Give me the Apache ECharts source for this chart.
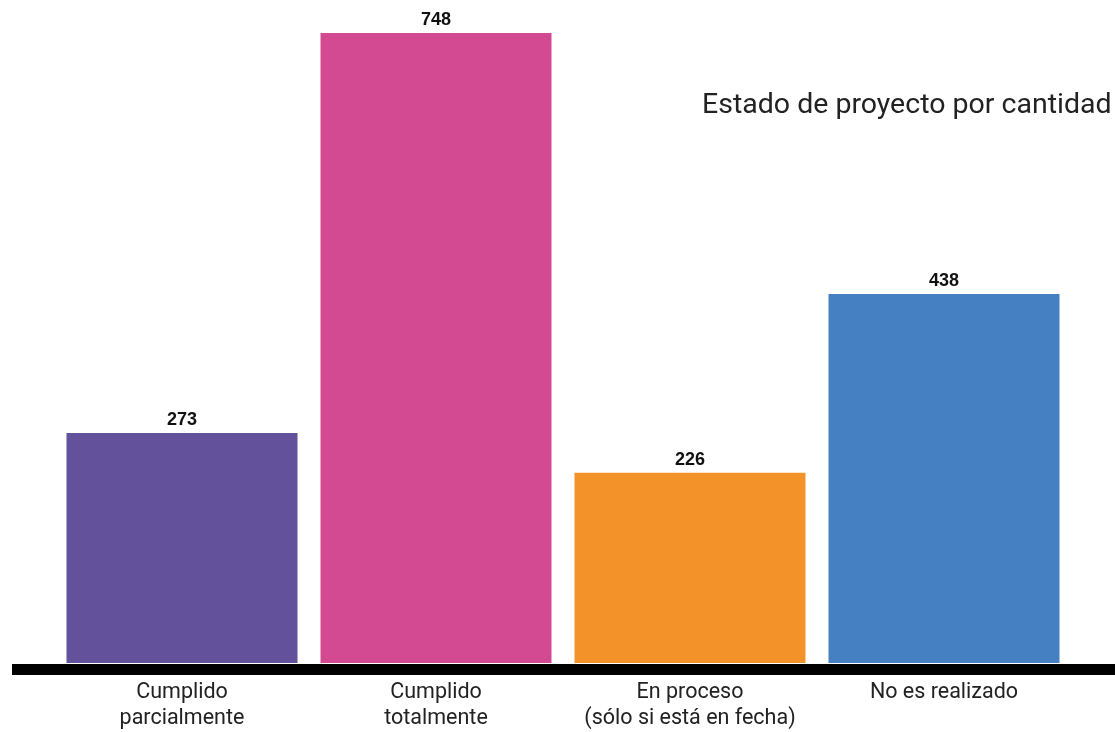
<!DOCTYPE html>
<html><head><meta charset="utf-8">
<script src="https://cdn.jsdelivr.net/npm/echarts@6/dist/echarts.min.js"></script>
<style>html,body{margin:0;padding:0;background:#fff}#c{width:1115px;height:732px}</style>
</head><body><div id="c"></div>
<script>
const categories = ['Cumplido\nparcialmente', 'Cumplido\ntotalmente', 'En proceso\n(sólo si está en fecha)', 'No es realizado'];
const values = [273, 748, 226, 438];
const colors = ['#63519B', '#D44A92', '#F39229', '#4580C2'];
const titleText = 'Estado de proyecto por cantidad';

const chart = echarts.init(document.getElementById('c'));
chart.setOption({
  animation: false,
  title: {
    text: titleText, left: 697, top: 86,
    textStyle: { fontFamily: 'Roboto', fontWeight: 'normal', fontSize: 28.5, color: '#222' }
  },
  grid: { left: 55, right: 44, top: 33, bottom: 68, containLabel: false },
  xAxis: {
    type: 'category', data: categories,
    axisLine: { show: false }, axisTick: { show: false },
    axisLabel: { interval: 0, fontFamily: 'Roboto', fontSize: 21.5, color: '#222', lineHeight: 26, margin: 17 }
  },
  yAxis: { type: 'value', min: 0, max: 748, show: false, splitLine: { show: false } },
  graphic: [{
    type: 'rect', left: 12, top: 664, shape: { width: 1103, height: 11 },
    style: { fill: '#000' }, z: 10
  }],
  series: [{
    type: 'bar', barWidth: 231,
    data: values.map((v, i) => ({ value: v, itemStyle: { color: colors[i] } })),
    label: { show: true, position: 'top', distance: 4, fontFamily: 'Liberation Sans', fontWeight: 'bold', fontSize: 18, color: '#111' }
  }]
});
</script></body></html>
